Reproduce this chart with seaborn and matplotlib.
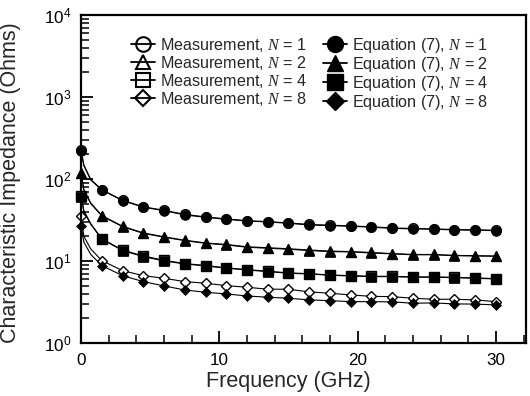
import matplotlib
matplotlib.use("Agg")
import matplotlib.pyplot as plt
from matplotlib.lines import Line2D
from matplotlib.ticker import FixedLocator, MultipleLocator, NullFormatter
import seaborn as sns
import pandas as pd

# ---------------- data ----------------
freq = [0, 0.2, 0.7, 1.5, 3.0, 4.5, 6.0, 7.5, 9.0, 10.5, 12.0, 13.5, 15.0,
        16.5, 18.0, 19.5, 21.0, 22.5, 24.0, 25.5, 27.0, 28.5, 30.0]

eq_n1 = [221, 145, 97, 73.4, 54.4, 45.2, 41.1, 36.4, 34.1, 32.2, 30.7, 29.9, 28.8,
         27.5, 27.0, 26.5, 25.8, 25.0, 24.6, 24.4, 23.9, 23.7, 23.4]
eq_n2 = [117, 73, 50, 35.4, 26.2, 21.7, 19.5, 17.7, 16.4, 15.7, 14.7, 14.3, 13.9,
         13.4, 13.0, 12.9, 12.5, 12.2, 11.9, 11.9, 11.6, 11.5, 11.4]
eq_n4 = [61, 40, 28, 18.4, 13.4, 11.3, 10.0, 9.2, 8.7, 8.15, 7.77, 7.41, 7.08,
         6.94, 6.69, 6.56, 6.44, 6.44, 6.33, 6.33, 6.26, 6.15, 6.03]
eq_n8 = [27, 17, 12, 8.77, 6.62, 5.6, 4.96, 4.43, 4.15, 3.96, 3.74, 3.61, 3.51,
         3.35, 3.28, 3.19, 3.19, 3.17, 3.05, 3.08, 2.99, 2.98, 2.91]

meas_n1 = [224, 148, 99, 74.0, 55.0, 45.8, 41.5, 37.0, 34.5, 32.6, 31.0, 30.2, 29.1,
           27.9, 27.3, 26.8, 26.1, 25.3, 24.9, 24.6, 24.2, 24.0, 23.7]
meas_n2 = [118, 74, 51, 35.8, 26.5, 22.0, 19.7, 17.9, 16.6, 15.9, 14.9, 14.5, 14.1,
           13.6, 13.2, 13.0, 12.7, 12.3, 12.0, 12.0, 11.7, 11.6, 11.5]
meas_n4 = [62, 41, 28.5, 18.6, 13.6, 11.5, 10.2, 9.3, 8.8, 8.25, 7.85, 7.5, 7.15,
           7.0, 6.75, 6.62, 6.5, 6.5, 6.4, 6.38, 6.32, 6.2, 6.1]
meas_n8 = [35, 20, 14, 10.1, 7.62, 6.62, 6.15, 5.6, 5.35, 5.0, 4.78, 4.52, 4.52,
           4.19, 4.04, 3.85, 3.7, 3.67, 3.51, 3.41, 3.41, 3.35, 3.19]

n_values = [1, 2, 4, 8]
markers = ["o", "^", "s", "D"]
marker_sizes = [7.0, 6.8, 6.5, 5.2]
legend_sizes = [10.5, 10.0, 10.0, 8.0]
x_ticks = [0, 10, 20, 30]

# ---------------- style ----------------
sns.set_theme(style="ticks")
plt.rcParams["font.family"] = ["Liberation Sans", "DejaVu Sans"]
plt.rcParams["mathtext.fontset"] = "custom"
plt.rcParams["mathtext.rm"] = "Liberation Sans"
plt.rcParams["mathtext.it"] = "Liberation Serif:italic"
plt.rcParams["mathtext.default"] = "it"
plt.rcParams["xtick.direction"] = "in"
plt.rcParams["ytick.direction"] = "in"
plt.rcParams["xtick.color"] = "black"
plt.rcParams["ytick.color"] = "black"
plt.rcParams["xtick.minor.visible"] = True
plt.rcParams["ytick.minor.visible"] = True

fig = plt.figure(figsize=(5.30, 3.96), dpi=100)
ax = fig.add_axes([0.153, 0.134, 0.840, 0.828])

mark_idx = [0] + list(range(3, len(freq)))

meas_all = [meas_n1, meas_n2, meas_n4, meas_n8]
eq_all = [eq_n1, eq_n2, eq_n4, eq_n8]

rows = []
for n, mv, ev in zip(n_values, meas_all, eq_all):
    for f, m, e in zip(freq, mv, ev):
        rows.append({"freq": f, "N": n, "meas": m, "eq": e})
df = pd.DataFrame(rows)

for n, mk, ms in zip(n_values, markers, marker_sizes):
    sub = df[df["N"] == n]
    sns.lineplot(data=sub, x="freq", y="meas", ax=ax, color="black", lw=0.8,
                 marker=mk, markersize=ms, markerfacecolor="white",
                 markeredgecolor="black", markeredgewidth=1.0,
                 markevery=mark_idx, zorder=2, legend=False, clip_on=False)
for n, mk, ms in zip(n_values, markers, marker_sizes):
    sub = df[df["N"] == n]
    sns.lineplot(data=sub, x="freq", y="eq", ax=ax, color="black", lw=0.8,
                 marker=mk, markersize=ms, markerfacecolor="black",
                 markeredgecolor="black", markeredgewidth=0.5,
                 markevery=mark_idx, zorder=3, legend=False, clip_on=False)

ax.set_yscale("log")
ax.set_xlim(0, 32.2)
ax.set_ylim(1, 1e4)
ax.xaxis.set_major_locator(FixedLocator(x_ticks))
ax.xaxis.set_minor_locator(MultipleLocator(2))
ax.yaxis.set_major_locator(FixedLocator([1, 10, 100, 1000, 10000]))
ax.yaxis.set_minor_locator(FixedLocator([m * 10 ** d for d in range(4) for m in range(2, 10)]))
ax.yaxis.set_minor_formatter(NullFormatter())
ax.xaxis.set_minor_formatter(NullFormatter())
ax.set_yticklabels([r"$\mathregular{10^{%d}}$" % d for d in range(5)])

ax.tick_params(axis="both", which="major", direction="in", length=8.5, width=1.3,
               color="black", labelsize=12.3, pad=7,
               top=False, right=False, left=True, bottom=True)
ax.tick_params(axis="both", which="minor", direction="in", length=5.5, width=1.1,
               color="black", top=False, right=False, left=True, bottom=True)
for s in ax.spines.values():
    s.set_linewidth(1.6)
    s.set_color("black")
    s.set_visible(True)

ax.set_xlabel("Frequency (GHz)", fontsize=15.5)
ax.xaxis.set_label_coords(0.465, -0.085)
ax.set_ylabel("Characteristic Impedance (Ohms)", fontsize=15.5)
ax.yaxis.set_label_coords(-0.135, 0.49)
ax.grid(False)

handles = []
labels = []
for n, mk, ls in zip(n_values, markers, legend_sizes):
    handles.append(Line2D([], [], color="black", lw=1.3, marker=mk, markersize=ls,
                          markerfacecolor="none", markeredgecolor="black",
                          markeredgewidth=1.5))
    labels.append(r"Measurement, $N$ = %d" % n)
for n, mk, ls in zip(n_values, markers, legend_sizes):
    handles.append(Line2D([], [], color="black", lw=1.3, marker=mk, markersize=ls + 1,
                          markerfacecolor="black", markeredgecolor="black"))
    labels.append(r"Equation (7), $N$ = %d" % n)

ax.legend(handles, labels, ncol=2, loc="upper left",
          bbox_to_anchor=(0.225, 0.938), bbox_transform=fig.transFigure,
          frameon=False, fontsize=11.6, handlelength=1.5, handletextpad=0.3,
          columnspacing=1.0, labelspacing=0.0, borderpad=0.2)

fig.savefig("out.png", dpi=100)
